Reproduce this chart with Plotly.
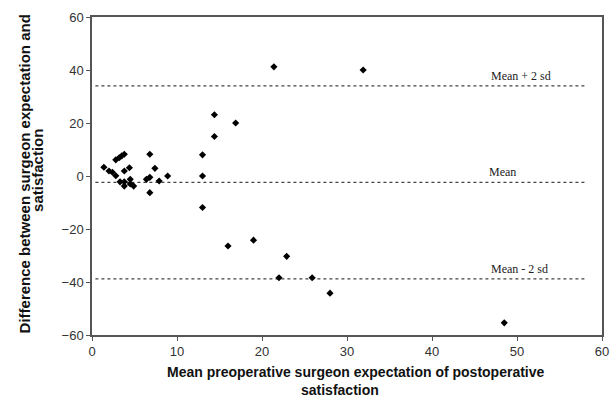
import plotly.graph_objects as go

mean_x = [1.4, 2.0, 2.4, 2.8, 2.8, 3.2, 3.5, 3.8, 3.8, 4.4, 3.3, 3.8, 3.8, 4.5, 4.5, 4.9,
          6.4, 6.8, 6.8, 7.4, 6.8, 7.9, 8.9,
          13.0, 13.0, 13.0, 14.4, 14.4, 16.9, 21.4, 31.9,
          16.0, 19.0, 22.9, 22.0, 25.9, 28.0, 48.5]
diff_y = [3.3, 1.9, 1.4, 0.1, 6.1, 6.9, 7.6, 8.2, 1.9, 3.1, -2.2, -2.2, -3.8, -1.25, -3.0, -3.8,
          -1.25, -0.5, 8.2, 2.9, -6.3, -1.9, 0.0,
          8.0, 0.0, -11.9, 23.1, 14.9, 20.0, 41.2, 40.0,
          -26.4, -24.2, -30.3, -38.4, -38.4, -44.2, -55.4]

mean_diff = -2.4
upper = 34.0
lower = -38.8
line_x = [0.4, 58.0]
line_labels = ["Mean + 2 sd", "Mean", "Mean - 2 sd"]
line_values = [upper, mean_diff, lower]
label_x = [50.5, 48.3, 50.3]

x_title = ["Mean preoperative surgeon expectation of postoperative", "satisfaction"]
y_title = ["Difference between surgeon expectation and", "satisfaction"]

fig = go.Figure()
for v in line_values:
    fig.add_trace(go.Scatter(x=line_x, y=[v, v], mode="lines",
                             line=dict(color="#444444", width=1.2, dash="dot"),
                             hoverinfo="skip", showlegend=False))
fig.add_trace(go.Scatter(x=mean_x, y=diff_y, mode="markers",
                         marker=dict(symbol="diamond", size=5.5, color="black"),
                         showlegend=False))

for lab, v, lx in zip(line_labels, line_values, label_x):
    fig.add_annotation(x=lx, y=v, text=lab, showarrow=False, yshift=10,
                       font=dict(family="Liberation Serif", size=12, color="#222222"))

xt_font = dict(family="Liberation Sans", size=14, color="#111111")
yt_font = dict(family="Liberation Sans", size=15, color="#111111")
# x-axis title (two lines)
fig.add_annotation(xref="paper", yref="paper", x=0.5176, y=-0.1164, text="<b>" + x_title[0] + "</b>",
                   showarrow=False, xanchor="center", yanchor="middle", font=xt_font)
fig.add_annotation(xref="paper", yref="paper", x=0.486, y=-0.173, text="<b>" + x_title[1] + "</b>",
                   showarrow=False, xanchor="center", yanchor="middle", font=xt_font)
# y-axis title (two lines, rotated)
fig.add_annotation(xref="paper", yref="paper", x=-0.1333, y=0.505, text="<b>" + y_title[0] + "</b>",
                   showarrow=False, xanchor="center", yanchor="middle", textangle=-90, font=yt_font)
fig.add_annotation(xref="paper", yref="paper", x=-0.1059, y=0.519, text="<b>" + y_title[1] + "</b>",
                   showarrow=False, xanchor="center", yanchor="middle", textangle=-90, font=yt_font)

axis_common = dict(showline=True, linecolor="#555555", linewidth=1.5, mirror=True,
                   ticks="outside", ticklen=4, tickcolor="#555555", showgrid=False,
                   zeroline=False, automargin=False, ticklabeloverflow="allow",
                   tickfont=dict(family="Liberation Sans", size=13, color="#333333"))

fig.update_xaxes(range=[0, 60], dtick=10, **axis_common)
fig.update_yaxes(range=[-60, 60], dtick=20, **axis_common)

fig.update_layout(width=610, height=408, plot_bgcolor="white", paper_bgcolor="white",
                  margin=dict(l=92, r=8, t=17, b=73))

# remove the default page margin so the 610x408 figure fills the window exactly
fig.write_html("out.html", config={"displayModeBar": False},
               post_script="document.body.style.margin='0';document.body.style.overflow='hidden';")
